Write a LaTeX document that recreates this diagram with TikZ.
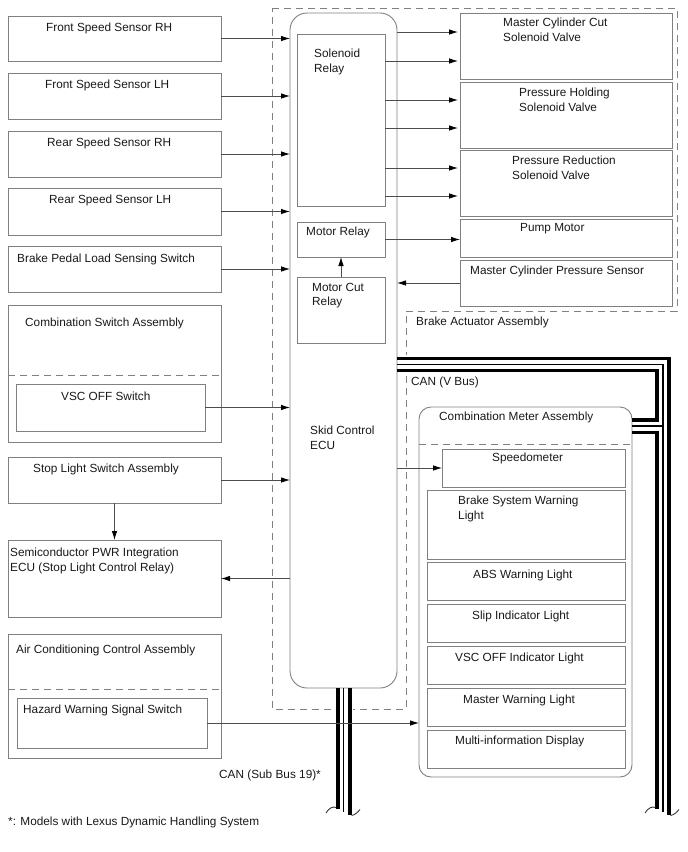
\documentclass[tikz,border=0pt]{standalone}
\usepackage{fontspec}
\setmainfont{Liberation Sans}
\usetikzlibrary{arrows.meta,calc}
\newcommand\mybox[6][]{\node[box,#1,minimum width={#5-#3},minimum height={#6-#4}] (#2) at ({(#3+#5)/2},{(#4+#6)/2}) {};}
\begin{document}
\begin{tikzpicture}[x=1pt,y=-1pt,
  font=\fontsize{11.8}{14.5}\selectfont,
  box/.style={draw=black!50, line width=0.9pt, inner sep=0pt, outer sep=0pt},
  txt/.style={anchor=west, inner sep=0pt, align=left, text=black!90, yshift=-1pt},
  arr/.style={draw=black!70, line width=0.8pt, -{Latex[length=9pt,width=5.5pt,color=black]}},
  dsh/.style={draw=black!50, line width=0.8pt, dash pattern=on 7pt off 5pt},
  busthick/.style={draw=black, line width=3.8pt},
  busthin/.style={draw=black, line width=1.1pt},
  wave/.style={draw=black!85, line width=0.8pt}]
\useasboundingbox[fill=white] (0,0) rectangle (688,852);

% Brake actuator outline
\draw[dsh] (272,8) -- (677,8) -- (677,311) -- (406,311) -- (406,709) -- (272,709) -- cycle;
\node[txt] (bat) at (416,321) {Brake Actuator Assembly};

% left column
\mybox{fsr}{8}{16}{221}{61}
\mybox{fsl}{8}{73}{221}{119}
\mybox{rsr}{8}{131}{221}{177}
\mybox{rsl}{8}{188}{221}{235}
\mybox{bpl}{8}{246}{221}{292}
\mybox{csa}{8}{305}{221}{442}
\mybox{vsw}{16}{384}{205}{431}
\mybox{sls}{8}{457}{221}{503}
\mybox{spi}{8}{540}{221}{617}
\mybox{aca}{8}{634}{221}{758}
\mybox{hws}{17}{698}{207}{748}
\draw[dsh] (csa.west |- 0,375) -- (csa.east |- 0,375);
\draw[dsh] (aca.west |- 0,689) -- (aca.east |- 0,689);

\node[txt] (t1) at (46,27) {Front Speed Sensor RH};
\node[txt] (t2) at (45,84) {Front Speed Sensor LH};
\node[txt] (t3) at (47,142) {Rear Speed Sensor RH};
\node[txt] (t4) at (49,199) {Rear Speed Sensor LH};
\node[txt] (t5) at (17,258) {Brake Pedal Load Sensing Switch};
\node[txt] (t6) at (25,322) {Combination Switch Assembly};
\node[txt] (t7) at (61,395) {VSC OFF Switch};
\node[txt] (t8) at (33,468) {Stop Light Switch Assembly};
\node[txt] (t9) at (10,560) {Semiconductor PWR Integration\\ECU (Stop Light Control Relay)};
\node[txt] (t10) at (16,649) {Air Conditioning Control Assembly};
\node[txt] (t11) at (23,709) {Hazard Warning Signal Switch};

% ECU
\node[box, rounded corners=17pt, minimum width=107, minimum height=675] (ecu) at (343.5,350.5) {};
\mybox{sol}{297}{34}{385}{206}
\mybox{mr}{297}{222}{385}{257}
\mybox{mcr}{297}{277}{385}{343}
\node[txt] (t12) at (314,61) {Solenoid\\Relay};
\node[txt] (t13) at (306,231) {Motor Relay};
\node[txt] (t14) at (312,294.5) {Motor Cut\\Relay};
\node[txt] (t15) at (310,437) {Skid Control\\ECU};

% right column
\mybox{mcc}{460}{13}{672}{79}
\mybox{phv}{460}{82}{672}{148}
\mybox{prv}{460}{150}{672}{216}
\mybox{pm}{460}{219}{672}{257}
\mybox{mcp}{460}{260}{672}{306}
\node[txt] (t16) at (503,29) {Master Cylinder Cut\\Solenoid Valve};
\node[txt] (t17) at (519,99) {Pressure Holding\\Solenoid Valve};
\node[txt] (t18) at (512,167) {Pressure Reduction\\Solenoid Valve};
\node[txt] (t19) at (520,228) {Pump Motor};
\node[txt] (t20) at (470,270) {Master Cylinder Pressure Sensor};

% combination meter
\node[box, rounded corners=12pt, minimum width=213, minimum height=370] (cma) at (525.5,592) {};
\draw[dsh] (cma.west |- 0,444) -- (cma.east |- 0,444);
\mybox{spd}{442}{449}{625}{487}
\mybox{bsw}{427}{490}{625}{559}
\mybox{abs}{427}{562}{625}{600}
\mybox{sil}{427}{604}{625}{642}
\mybox{voi}{427}{646}{625}{684}
\mybox{mwl}{427}{688}{625}{726}
\mybox{mid}{427}{730}{625}{768}
\node[txt] (t21) at (439,416) {Combination Meter Assembly};
\node[txt] (t22) at (492,457) {Speedometer};
\node[txt] (t23) at (458,508) {Brake System Warning\\Light};
\node[txt] (t24) at (473,574) {ABS Warning Light};
\node[txt] (t25) at (472,615) {Slip Indicator Light};
\node[txt] (t26) at (455,657) {VSC OFF Indicator Light};
\node[txt] (t27) at (463,699) {Master Warning Light};
\node[txt] (t28) at (455,740) {Multi-information Display};

\node[txt] (t29) at (411,381) {CAN (V Bus)};
\node[txt] (t30) at (219,774) {CAN (Sub Bus 19)*};
\node[txt] (t31) at (8,821) {*: Models with Lexus Dynamic Handling System};

% arrows into ECU
\foreach \b in {fsr,fsl,rsr,rsl,bpl,vsw,sls}
  \draw[arr] (\b.east) -- (\b.east -| ecu.west);
\draw[arr] (sls.south) -- (sls.south |- spi.north);
\draw[arr] (ecu.west |- spi.east) -- (spi.east);

% arrows to actuator parts
\coordinate (a1) at ($(mcc.north west)+(-2,19)$);
\coordinate (a2) at ($(mcc.north west)+(-2,48)$);
\coordinate (a3) at ($(phv.north west)+(-2,18)$);
\coordinate (a4) at ($(phv.north west)+(-2,46)$);
\coordinate (a5) at ($(prv.north west)+(-2,18)$);
\coordinate (a6) at ($(prv.north west)+(-2,46)$);
\draw[arr] (ecu.east |- a1) -- (a1);
\foreach \c in {a2,a3,a4,a5,a6}
  \draw[arr] (sol.east |- \c) -- (\c);
\draw[arr] (mr.east) -- (mr.east -| pm.west);
\draw[arr] (mcr.north) -- (mr.south);
\draw[arr] (mcp.west) -- (mcp.west -| ecu.east);
\draw[arr] (spd.west -| ecu.east) -- (spd.west);

% CAN V Bus
\fill[white] (400,355) rectangle (412,373);
\coordinate (v1) at (ecu.east |- 0,358.5);
\coordinate (v2) at (ecu.east |- 0,364.5);
\coordinate (v3) at (ecu.east |- 0,370.5);
\coordinate (e1) at (669,814.5);
\coordinate (e2) at (663,811.5);
\coordinate (e3) at (657,808.5);
\draw[busthick] (v1) -- (e1 |- v1) -- (e1);
\draw[busthin] (v2) -- (e2 |- v2) -- (e2);
\draw[busthick] (v3) -- (e3 |- v3) -- (e3 |- 0,420) -- (cma.east |- 0,420);
\draw[busthin] (cma.east |- 0,426) -- (e2 |- 0,426);
\draw[busthick] (cma.east |- 0,432.5) -- (e3 |- 0,432.5) -- (e3);
\draw[wave] (645,813) .. controls (648,808) and (652,806) .. (655.5,807.5);
\draw[wave] (670.5,815.5) .. controls (674,815) and (677,812) .. (679,809.5);

% CAN Sub Bus 19
\fill[white] (335,689) rectangle (353,808);
\coordinate (s1) at (338,809);
\coordinate (s2) at (343.5,812);
\coordinate (s3) at (349.7,815);
\draw[busthick] (s1 |- ecu.south) -- (s1);
\draw[busthin] (s2 |- ecu.south) -- (s2);
\draw[busthick] (s3 |- ecu.south) -- (s3);
\draw[wave] (326,813) .. controls (329,808) and (333,806) .. (336.2,807.5);
\draw[wave] (351.6,815.5) .. controls (355,815) and (358,812) .. (360,809.5);

% hazard switch signal to meter (drawn over the bus)
\draw[arr] (hws.east) -- (hws.east -| cma.west);
\end{tikzpicture}
\end{document}
